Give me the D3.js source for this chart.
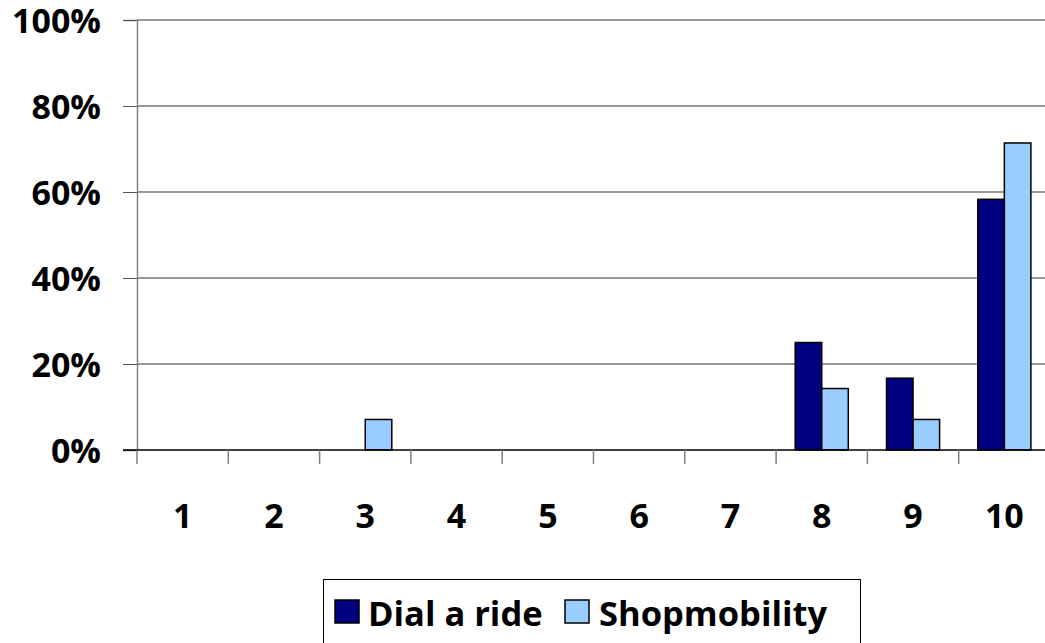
<!DOCTYPE html>
<html><head><meta charset="utf-8">
<script src="https://cdn.jsdelivr.net/npm/d3@7"></script>
<style>body{margin:0;background:#fff}svg{display:block}</style>
</head><body>
<script>
const categories = ["1","2","3","4","5","6","7","8","9","10"];
const seriesNames = ["Dial a ride","Shopmobility"];
const dialARide = [0,0,0,0,0,0,0,0.25,0.167,0.583];
const shopmobility = [0,0,0.071,0,0,0,0,0.143,0.071,0.714];
const yTicks = [0,0.2,0.4,0.6,0.8,1.0];
const colors = ["#000080","#99CCFF"];

const W=1045,H=643;
const m={left:137,top:20,right:-5,bottom:193};
const pw=W-m.left-m.right, ph=H-m.top-m.bottom;
const svg=d3.select("body").append("svg").attr("width",W).attr("height",H);
const g=svg.append("g").attr("transform",`translate(${m.left},${m.top})`);
const font="'Open Sans', sans-serif";

const x0=d3.scaleBand().domain(categories).range([0,pw]).padding(0);
const x1=d3.scaleBand().domain(seriesNames).range([0,x0.bandwidth()]).paddingInner(0).paddingOuter(0.72);
const y=d3.scaleLinear().domain([0,1]).range([ph,0]);

// gridlines
g.selectAll(".grid").data(yTicks.filter(t=>t>0)).enter().append("line")
 .attr("x1",0).attr("x2",pw).attr("y1",d=>y(d)).attr("y2",d=>y(d))
 .attr("stroke","#333").attr("stroke-width",1.2);

// y axis
const ya=g.append("g").call(d3.axisLeft(y).tickValues(yTicks).tickFormat(d3.format(".0%")).tickSize(14).tickPadding(22));
ya.select(".domain").attr("stroke","#808080").attr("stroke-width",1.5);
ya.selectAll(".tick line").attr("stroke","#555");
ya.selectAll("text").attr("font-family",font).attr("font-weight","bold").attr("font-size",34).attr("fill","#000").attr("dy","0.36em");

// bars
const data=categories.map((c,i)=>({c,vals:[dialARide[i],shopmobility[i]]}));
const grp=g.selectAll(".cat").data(data).enter().append("g").attr("transform",d=>`translate(${x0(d.c)},0)`);
grp.selectAll("rect").data(d=>d.vals.map((v,j)=>({s:seriesNames[j],v,j})).filter(e=>e.v>0)).enter().append("rect")
 .attr("x",e=>x1(e.s)).attr("width",x1.bandwidth()).attr("y",e=>y(e.v)).attr("height",e=>ph-y(e.v))
 .attr("fill",e=>colors[e.j]).attr("stroke","#000").attr("stroke-width",1.5);

// x axis
const xa=g.append("g").attr("transform",`translate(0,${ph})`).call(d3.axisBottom(x0).tickSize(0).tickPadding(54));
xa.select(".domain").remove();
g.append("line").attr("x1",-14).attr("x2",pw).attr("y1",ph).attr("y2",ph).attr("stroke","#000").attr("stroke-width",1.5);
g.selectAll(".xt").data(categories.concat(["_end"])).enter().append("line")
 .attr("x1",(d,i)=>i*x0.step()).attr("x2",(d,i)=>i*x0.step()).attr("y1",ph).attr("y2",ph+14)
 .attr("stroke","#808080").attr("stroke-width",1.5);
xa.selectAll("text").attr("font-family",font).attr("font-weight","bold").attr("font-size",34).attr("fill","#000");

// legend
const lg=svg.append("g");
lg.append("rect").attr("x",323.5).attr("y",579.5).attr("width",537).attr("height",80).attr("fill","#fff").attr("stroke","#000").attr("stroke-width",1);
const items=[{n:seriesNames[0],sx:335,tx:368},{n:seriesNames[1],sx:565,tx:599}];
items.forEach((it,i)=>{
  lg.append("rect").attr("x",it.sx).attr("y",600).attr("width",24).attr("height",23).attr("fill",colors[i]).attr("stroke","#000").attr("stroke-width",1.5);
  lg.append("text").attr("x",it.tx).attr("y",626).attr("font-family",font).attr("font-weight","bold").attr("font-size",34.5).text(it.n);
});
</script>
</body></html>
